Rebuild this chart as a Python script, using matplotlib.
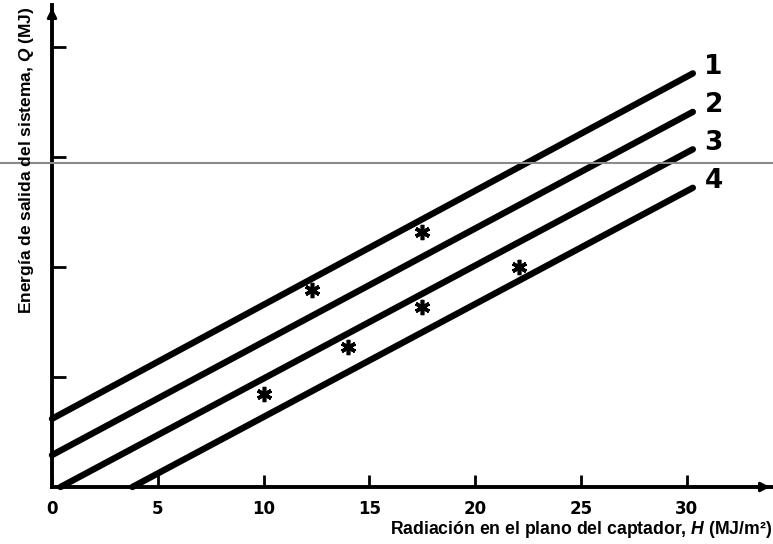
import matplotlib
matplotlib.use("Agg")
import matplotlib.pyplot as plt
import numpy as np

plt.rcParams["mathtext.fontset"] = "custom"
plt.rcParams["mathtext.it"] = "Liberation Sans:italic:bold"
plt.rcParams["mathtext.rm"] = "Liberation Sans:bold"

# Data (y in tick units; ticks unlabeled)
line_labels = ["1", "2", "3", "4"]
line_x_start = [0.0, 0.0, 0.4, 3.8]
line_y_start = [0.62, 0.29, 0.0, 0.0]
line_x_end = [30.3, 30.3, 30.3, 30.3]
line_y_end = [3.76, 3.41, 3.07, 2.72]

pts_x = [12.3, 17.5, 14.0, 10.0, 17.5, 22.1]
pts_y = [1.79, 2.32, 1.27, 0.85, 1.64, 2.00]

xticks = [0, 5, 10, 15, 20, 25, 30]
yticks = [0, 1, 2, 3, 4]

W, H = 773, 544
fig = plt.figure(figsize=(W / 100, H / 100), dpi=100)
ax = fig.add_axes([52 / W, 1 - 487 / H, (W - 52) / W, (487 - 5) / H])
xmax = (W - 52) / 21.15
ymax = (487 - 5) / 110
ax.set_xlim(0, xmax)
ax.set_ylim(0, ymax)

for xs, ys, xe, ye, lab in zip(line_x_start, line_y_start, line_x_end, line_y_end, line_labels):
    ax.plot([xs, xe], [ys, ye], color="black", lw=4.6, solid_capstyle="round", clip_on=False)
    ax.text(xe + 0.55, ye + 0.06, lab, fontsize=19, fontweight="bold", ha="left", va="center",
            family="DejaVu Sans")

ax.plot(pts_x, pts_y, linestyle="none", marker=(6, 2, 0), markersize=11, markeredgewidth=2.6,
        color="black")

# gray horizontal line across whole figure
fig.add_artist(plt.Line2D([0, 1], [1 - 163 / H, 1 - 163 / H], color="#8a8a8a", lw=1.5))

for s in ["top", "right"]:
    ax.spines[s].set_visible(False)
for s in ["left", "bottom"]:
    ax.spines[s].set_linewidth(2.8)

ax.set_xticks(xticks)
ax.set_xticklabels([str(t) for t in xticks], fontsize=12, fontweight="bold")
ax.set_yticks(yticks[1:])
ax.set_yticklabels([])
ax.tick_params(axis="x", direction="in", length=9, width=2, pad=9)
ax.tick_params(axis="y", direction="in", length=10, width=2)

# arrows
ax.annotate("", xy=(1.0, 0), xytext=(0.97, 0), xycoords="axes fraction",
            arrowprops=dict(arrowstyle="-|>", color="black", lw=2, mutation_scale=14))
ax.annotate("", xy=(0, 1.0), xytext=(0, 0.97), xycoords="axes fraction",
            arrowprops=dict(arrowstyle="-|>", color="black", lw=2, mutation_scale=14))

fig.text(1 - 1 / W, 1 - 530 / H, "Radiación en el plano del captador, $H$ (MJ/m²)",
         ha="right", va="center", fontsize=12.7, fontweight="bold", family="Liberation Sans")
fig.text(27 / W, 1 - 160 / H, "Energía de salida del sistema, $Q$ (MJ)",
         ha="center", va="center", rotation=90, fontsize=12.5, fontweight="bold",
         family="Liberation Sans")

fig.savefig("out.png", dpi=100)
